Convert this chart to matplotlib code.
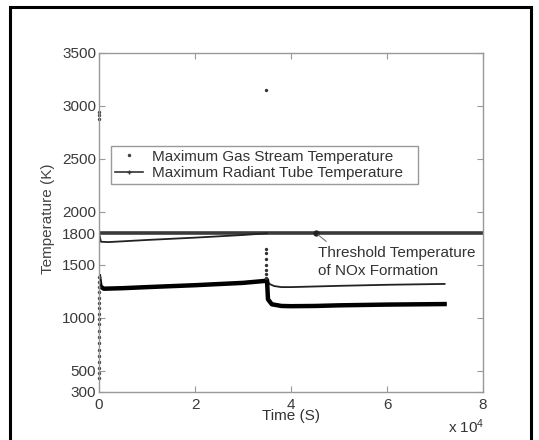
import matplotlib
matplotlib.use('Agg')
import matplotlib.pyplot as plt
import numpy as np
from matplotlib.lines import Line2D
from matplotlib.patches import Rectangle

plt.rcParams['font.family'] = ['Liberation Sans', 'DejaVu Sans']
plt.rcParams['mathtext.default'] = 'regular'

# tempo em unidades de 1e4 s
t_gas = [0.0, 0.03, 0.1, 0.5, 1.0, 2.0, 3.0, 3.45, 3.5, 3.52, 3.6, 3.8, 4.0, 4.5, 5.0, 6.0, 7.2]
T_gas = [1390, 1295, 1275, 1280, 1290, 1308, 1330, 1348, 1357, 1175, 1128, 1112, 1110, 1112, 1118, 1125, 1130]

# pontos isolados do gas (partida e pico em ~3.5e4 s)
t_gas_pts = [0.0] * 19 + [0.0] * 3 + [3.48] * 8
T_gas_pts = [430, 480, 530, 580, 640, 700, 760, 820, 880, 940, 990, 1040, 1090, 1140,
             1190, 1240, 1290, 1340, 1390,
             2880, 2910, 2940,
             3150, 1650, 1610, 1560, 1500, 1450, 1410, 1380]

t_tubo = [0.0, 0.04, 0.2, 1.0, 2.0, 3.0, 3.5, np.nan, 3.5, 3.55, 3.65, 3.8, 4.0, 5.0, 6.0, 7.2]
T_tubo = [1800, 1718, 1715, 1735, 1757, 1782, 1798, np.nan, 1357, 1320, 1300, 1290, 1290, 1302, 1312, 1320]

t_limite = [0, 8]
T_limite = [1800, 1800]
t_marca, T_marca = 4.52, 1800

yticks = [300, 500, 1000, 1500, 1800, 2000, 2500, 3000, 3500]
xticks = [0, 2, 4, 6, 8]

fig = plt.figure(figsize=(5.39, 4.4), dpi=100)
ax = fig.add_axes([0.1837, 0.1091, 0.7124, 0.7705])

ax.plot(t_limite, T_limite, color='#3a3a3a', lw=2.6)
ax.plot(t_tubo, T_tubo, color='#222222', lw=1.3)
ax.plot(t_gas, T_gas, color='black', lw=3.2, solid_joinstyle='round')
ax.plot(t_gas_pts, T_gas_pts, ls='none', marker='.', ms=2.8, color='#333333', clip_on=False)

ax.plot([t_marca], [T_marca], marker='o', ms=3.5, color='#222222')
ax.annotate('', xy=(t_marca, T_marca), xytext=(4.78, 1704),
            arrowprops=dict(arrowstyle='-', color='#777777', lw=0.8))
ax.text(4.56, 1527, 'Threshold Temperature\nof NOx Formation', fontsize=11,
        color='#333333', va='center', ha='left', linespacing=1.3)

ax.set_xlim(0, 8)
ax.set_ylim(300, 3500)
ax.set_xticks(xticks)
ax.set_yticks(yticks)
ax.tick_params(direction='in', length=4, width=0.8, color='#999999', labelcolor='#3a3a3a',
               labelsize=11, top=True, right=True)
ax.tick_params(axis='x', pad=4)
ax.tick_params(axis='y', pad=2)
for s in ax.spines.values():
    s.set_color('#999999')
    s.set_linewidth(1.0)

ax.set_xlabel('Time (S)', fontsize=11, color='#333333')
ax.xaxis.set_label_coords(0.5, -0.05)
ax.set_ylabel('Temperature (K)', fontsize=11, color='#444444')
ax.yaxis.set_label_coords(-0.115, 0.51)

handles = [Line2D([], [], ls='none', marker='.', ms=3, color='#444444'),
           Line2D([], [], color='#333333', lw=1.2, marker='+', ms=3)]
leg = ax.legend(handles, ['Maximum Gas Stream Temperature', 'Maximum Radiant Tube Temperature'],
                loc='upper left', bbox_to_anchor=(0.031, 0.602, 0.80, 0.124), mode='expand',
                borderaxespad=0, fontsize=11, fancybox=False, framealpha=1,
                handlelength=1.85, handletextpad=0.6, borderpad=0.25, labelspacing=0.15)
leg.get_frame().set_edgecolor('#999999')
leg.get_frame().set_linewidth(1.0)
for txt in leg.get_texts():
    txt.set_color('#333333')

fig.text(448 / 539, 1 - 427 / 440, 'x 10$^4$', fontsize=11, color='#333333', va='center')

fig.patches.append(Rectangle((10 / 539, -0.05), 521 / 539, 1.05 - 7 / 440,
                             transform=fig.transFigure, fill=False, edgecolor='black', lw=2.2))

plt.savefig('out.png', dpi=100)
